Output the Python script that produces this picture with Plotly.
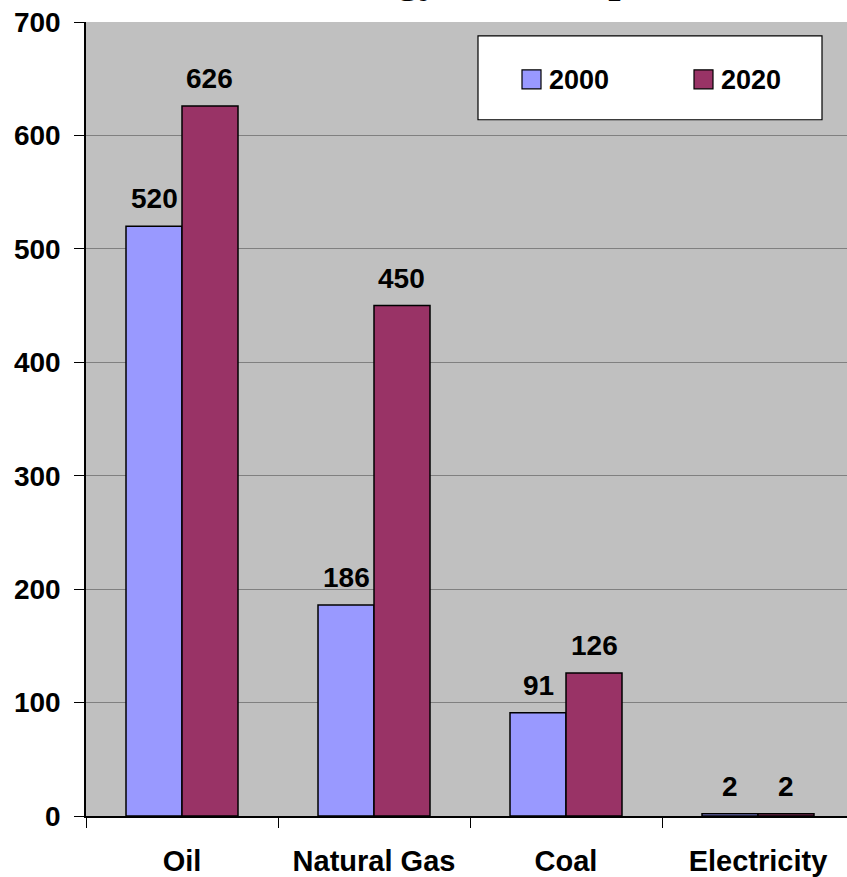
import plotly.graph_objects as go

# Energy use by source, 2000 vs 2020
categories = ["Oil", "Natural Gas", "Coal", "Electricity"]
years = ["2000", "2020"]
values_2000 = [520, 186, 91, 2]
values_2020 = [626, 450, 126, 2]
y_ticks = [0, 100, 200, 300, 400, 500, 600, 700]

colors = {"2000": "#9999FF", "2020": "#993366"}
FONT = "Arial, Liberation Sans, sans-serif"

W, H = 847, 877
L, R, T, B = 86, 0, 22, 59
plot_w = W - L - R
plot_h = H - T - B


def px_x(x):
    return (x - L) / plot_w


def px_y(y):
    return (H - B - y) / plot_h


fig = go.Figure()
series = {"2000": values_2000, "2020": values_2020}
for yr in years:
    fig.add_trace(go.Bar(
        x=categories, y=series[yr], name=yr,
        marker=dict(color=colors[yr], line=dict(color="#000000", width=1.5)),
        showlegend=False,
    ))

# value labels above each bar
cat_px = plot_w / 3.9635  # pixel width of one category slot
bar_px = cat_px * (1 - 0.4167) / 2
annotations = []
for i, yr in enumerate(years):
    shift = (i - 0.5) * bar_px
    for c, v in zip(categories, series[yr]):
        annotations.append(dict(
            x=c, y=v, text=f"<b>{v}</b>", showarrow=False,
            xshift=shift, yshift=10, yanchor="bottom",
            font=dict(family=FONT, size=28, color="#000000"),
        ))

# legend box
shapes = [dict(type="rect", xref="paper", yref="paper",
               x0=px_x(478), x1=px_x(822), y0=px_y(120), y1=px_y(36),
               fillcolor="#FFFFFF", line=dict(color="#000000", width=1.2))]
for yr, sx in zip(years, [522, 694]):
    shapes.append(dict(type="rect", xref="paper", yref="paper",
                       x0=px_x(sx), x1=px_x(sx + 19), y0=px_y(89), y1=px_y(70),
                       fillcolor=colors[yr], line=dict(color="#000000", width=1.2)))
    annotations.append(dict(xref="paper", yref="paper", x=px_x(sx + 25), y=px_y(80),
                            text=f"<b>{yr}</b>", showarrow=False,
                            xanchor="left", yanchor="middle",
                            font=dict(family=FONT, size=27, color="#000000")))

# title, mostly above the top edge of the page
annotations.append(dict(xref="paper", yref="paper", x=px_x(505), y=px_y(3.5),
                        text="<b>Energy Consumption</b>", showarrow=False,
                        xanchor="center", yanchor="bottom",
                        font=dict(family="Liberation Serif, Times New Roman, serif",
                                  size=44, color="#000000")))

fig.update_layout(
    width=W, height=H,
    margin=dict(l=L, r=R, t=T, b=B, pad=0),
    paper_bgcolor="#FFFFFF", plot_bgcolor="#C0C0C0",
    barmode="group", bargap=0.4167, bargroupgap=0,
    font=dict(family=FONT, size=28, color="#000000"),
    shapes=shapes, annotations=annotations,
)
fig.update_xaxes(
    range=[-0.5, 3.4635], tickson="boundaries",
    ticks="outside", ticklen=10, tickwidth=1, tickcolor="#000000",
    tickfont=dict(family=FONT, size=29, color="#000000"),
    tickprefix="<b>", ticksuffix="</b>",
    ticklabelstandoff=18,
    showline=True, linecolor="#000000", linewidth=1.5,
    showgrid=False, zeroline=False,
)
fig.update_yaxes(
    range=[0, 700], tickvals=y_ticks, ticktext=[f"<b>{v}</b>" for v in y_ticks],
    ticks="outside", ticklen=10, tickwidth=1, tickcolor="#000000",
    tickfont=dict(family=FONT, size=28, color="#000000"),
    ticklabelstandoff=8,
    showline=True, linecolor="#000000", linewidth=1.5,
    showgrid=True, gridcolor="#808080", gridwidth=1,
    zeroline=False,
)

fig.write_html("out.html")
